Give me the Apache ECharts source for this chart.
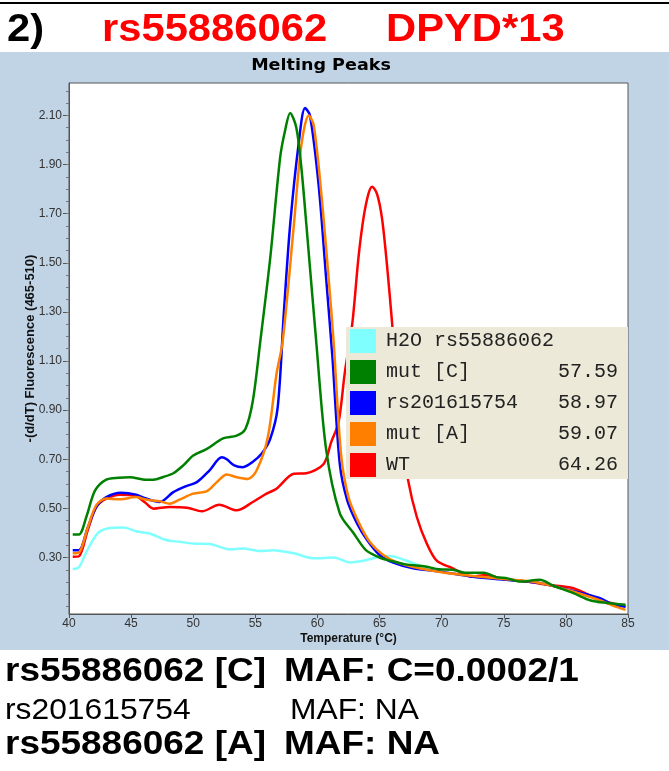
<!DOCTYPE html>
<html>
<head>
<meta charset="utf-8">
<title>Melting Peaks - rs55886062 DPYD*13</title>
<script src="https://cdn.jsdelivr.net/npm/echarts@6.0.0/dist/echarts.min.js"></script>
<style>
  html, body { margin: 0; padding: 0; background: #fff; }
  #chart { width: 669px; height: 771px; }
</style>
</head>
<body>
<div id="chart"></div>
<script>
// melting peak curves, temperature (°C) vs -(d/dT) fluorescence
const h2oTemp = [40.3, 40.8, 41.4, 42.3, 43.1, 44.4, 45.4, 46.5, 47.8, 48.9, 50.0, 51.3, 53.0, 54.0, 55.4, 56.4, 58.1, 59.7, 61.3, 62.6, 63.7, 64.5, 65.8, 67.2, 68.3, 69.3];
const h2oVal = [0.253, 0.26, 0.323, 0.398, 0.418, 0.422, 0.407, 0.398, 0.371, 0.364, 0.357, 0.355, 0.333, 0.337, 0.326, 0.33, 0.317, 0.297, 0.30, 0.28, 0.287, 0.297, 0.306, 0.287, 0.266, 0.25];

const mutCTemp = [40.3, 40.8, 41.4, 42.1, 43.0, 44.0, 44.9, 46.2, 46.8, 47.6, 48.4, 49.2, 50.0, 51.1, 52.4, 53.5, 54.2, 54.8, 55.4, 56.2, 57.0, 57.4, 57.8, 58.3, 58.7, 59.1, 59.9, 60.7, 61.8, 62.9, 63.9, 65.0, 66.0, 67.1, 68.7, 69.8, 70.9, 72.0, 73.4, 74.4, 75.3, 76.3, 77.9, 79.0, 80.6, 82.0, 83.3, 84.8];
const mutCVal = [0.394, 0.394, 0.466, 0.573, 0.617, 0.625, 0.627, 0.617, 0.617, 0.628, 0.643, 0.675, 0.715, 0.742, 0.785, 0.796, 0.823, 0.938, 1.18, 1.52, 1.93, 2.04, 2.11, 2.05, 1.89, 1.66, 1.18, 0.74, 0.48, 0.40, 0.33, 0.30, 0.285, 0.272, 0.263, 0.252, 0.25, 0.238, 0.238, 0.22, 0.215, 0.202, 0.209, 0.185, 0.155, 0.125, 0.115, 0.108];

const rsTemp = [40.3, 40.8, 41.5, 42.2, 43.0, 44.2, 45.4, 46.2, 47.3, 48.4, 49.4, 50.3, 51.3, 52.3, 52.7, 53.3, 54.0, 54.8, 55.5, 56.2, 56.8, 57.3, 57.8, 58.5, 59.0, 59.4, 60.1, 60.7, 61.2, 61.8, 62.4, 63.2, 64.0, 65.0, 66.1, 67.7, 69.8, 72.5, 75.2, 77.9, 80.0, 82.7, 83.8, 84.8];
const rsVal = [0.33, 0.33, 0.42, 0.506, 0.546, 0.564, 0.556, 0.54, 0.526, 0.566, 0.59, 0.607, 0.654, 0.708, 0.70, 0.675, 0.668, 0.69, 0.722, 0.783, 0.911, 1.30, 1.653, 1.99, 2.13, 2.10, 1.815, 1.437, 1.12, 0.68, 0.533, 0.438, 0.371, 0.31, 0.279, 0.256, 0.243, 0.222, 0.209, 0.196, 0.171, 0.135, 0.108, 0.10];

const mutATemp = [40.3, 40.8, 41.5, 42.2, 43.0, 44.1, 45.4, 46.2, 47.3, 48.1, 48.9, 50.0, 51.1, 51.9, 52.7, 53.5, 54.4, 55.1, 56.0, 56.7, 57.2, 58.1, 58.7, 59.3, 59.7, 60.3, 60.9, 61.3, 61.9, 62.5, 63.3, 64.2, 65.3, 66.4, 68.0, 70.0, 72.5, 75.0, 77.5, 80.0, 82.5, 84.0, 84.8];
const mutAVal = [0.317, 0.32, 0.42, 0.513, 0.54, 0.537, 0.546, 0.536, 0.529, 0.519, 0.536, 0.56, 0.57, 0.607, 0.638, 0.627, 0.62, 0.654, 0.789, 1.046, 1.18, 1.653, 1.977, 2.10, 2.06, 1.788, 1.437, 1.18, 0.72, 0.545, 0.445, 0.364, 0.31, 0.28, 0.258, 0.24, 0.225, 0.212, 0.20, 0.17, 0.13, 0.10, 0.087];

const wtTemp = [40.3, 40.8, 41.5, 42.2, 43.0, 44.1, 45.4, 46.1, 46.8, 48.1, 49.5, 50.7, 52.1, 53.5, 54.8, 55.9, 56.7, 58.1, 59.1, 60.5, 61.1, 61.7, 62.2, 62.8, 63.3, 63.7, 64.1, 64.4, 64.8, 65.2, 65.6, 66.0, 66.4, 66.8, 67.3, 68.0, 68.8, 69.6, 70.9, 72.5, 73.6, 74.7, 76.9, 78.5, 80.6, 82.7, 84.8];
const wtVal = [0.303, 0.305, 0.41, 0.506, 0.54, 0.556, 0.55, 0.525, 0.499, 0.506, 0.503, 0.488, 0.515, 0.492, 0.526, 0.56, 0.58, 0.641, 0.643, 0.681, 0.769, 0.85, 1.052, 1.25, 1.52, 1.68, 1.78, 1.81, 1.78, 1.68, 1.49, 1.26, 1.02, 0.80, 0.614, 0.465, 0.357, 0.287, 0.256, 0.222, 0.229, 0.216, 0.202, 0.189, 0.175, 0.128, 0.101];

// legend: sample names and Tm
const sampleNames = ['H2O rs55886062', 'mut [C]', 'rs201615754', 'mut [A]', 'WT'];
const tmValues = ['', '57.59', '58.97', '59.07', '64.26'];
const sampleColors = ['#80FFFF', '#008000', '#0000FF', '#FF8000', '#FF0000'];

const yTickLabels = [0.30, 0.50, 0.70, 0.90, 1.10, 1.30, 1.50, 1.70, 1.90, 2.10];

const noteLines = [
  ['rs55886062 [C]', 'MAF: C=0.0002/1', true],
  ['rs201615754', 'MAF: NA', false],
  ['rs55886062 [A]', 'MAF: NA', true]
];

function zip(xs, ys) {
  return xs.map((x, i) => [x, ys[i]]);
}

const curves = [
  { name: sampleNames[0], data: zip(h2oTemp, h2oVal), color: sampleColors[0] },
  { name: sampleNames[4], data: zip(wtTemp, wtVal), color: sampleColors[4] },
  { name: sampleNames[2], data: zip(rsTemp, rsVal), color: sampleColors[2] },
  { name: sampleNames[3], data: zip(mutATemp, mutAVal), color: sampleColors[3] },
  { name: sampleNames[1], data: zip(mutCTemp, mutCVal), color: sampleColors[1] }
];

// minor ticks every 0.05 on the y axis
const yMinorTicks = [];
for (let v = 0.10; v < 2.23; v += 0.05) yMinorTicks.push(+v.toFixed(2));

const yMin = 0.07, yMax = 2.232;

let chart = echarts.init(document.getElementById('chart'));

function txt(x, y, text, font, fill, sx, align) {
  return {
    type: 'text', x: x, y: y, scaleX: sx || 1,
    style: { text: text, font: font, fill: fill, align: align || 'left', verticalAlign: 'middle' }
  };
}

const notes = [];
const noteY = [671.5, 711, 745];
noteLines.forEach((l, i) => {
  const font = l[2] ? 'bold 33px "Liberation Sans", Arial' : '30px "Liberation Sans", Arial';
  const sx = l[2] ? 1.12 : 1.06;
  notes.push(txt(5, noteY[i], l[0], font, '#000', sx));
  notes.push(txt(l[2] ? 284 : 290, noteY[i], l[1], font, '#000', sx));
});

const titleFont = 'bold 39px "Liberation Sans", Arial';

const option = {
  animation: false,
  backgroundColor: '#fff',
  textStyle: { fontFamily: '"Liberation Sans", Arial' },
  graphic: [
    { type: 'rect', z: -10, shape: { x: 0, y: 52, width: 669, height: 598 }, style: { fill: '#C1D4E6' } },
    { type: 'rect', shape: { x: 0, y: 2, width: 669, height: 2 }, style: { fill: '#000' } },
    txt(7, 30, '2)', titleFont, '#000', 1.07),
    txt(102, 30, 'rs55886062', titleFont, '#FF0000', 1.07),
    txt(386, 30, 'DPYD*13', titleFont, '#FF0000', 1.07),
    txt(321, 66, 'Melting Peaks', 'bold 15px "DejaVu Sans"', '#000', 1.17, 'center')
  ].concat(notes),
  grid: {
    left: 69, right: 41, top: 83, bottom: 157,
    show: true,
    backgroundColor: '#fff',
    borderColor: '#555',
    borderWidth: 1
  },
  legend: {
    orient: 'vertical',
    left: 346,
    top: 327,
    backgroundColor: '#ECE9D8',
    padding: [2, 10, 2, 4],
    itemWidth: 26,
    itemHeight: 24,
    itemGap: 7,
    icon: 'rect',
    selectedMode: false,
    data: sampleNames,
    formatter: function (name) {
      return '{n|' + name + '}{v|' + tmValues[sampleNames.indexOf(name)] + '}';
    },
    textStyle: {
      fontFamily: '"Liberation Mono", monospace',
      fontSize: 20,
      color: '#222',
      rich: {
        n: { width: 150, padding: [0, 0, 0, 5], fontFamily: '"Liberation Mono", monospace', fontSize: 20, color: '#222' },
        v: { width: 82, align: 'right', fontFamily: '"Liberation Mono", monospace', fontSize: 20, color: '#222' }
      }
    }
  },
  xAxis: {
    type: 'value',
    min: 40,
    max: 85,
    interval: 5,
    name: 'Temperature (°C)',
    nameLocation: 'middle',
    nameGap: 19,
    nameMoveOverlap: false,
    nameTextStyle: { fontSize: 12, fontWeight: 'bold', color: '#111' },
    axisLine: { lineStyle: { color: '#555' } },
    axisTick: { length: 4, lineStyle: { color: '#555' } },
    axisLabel: { fontSize: 12, color: '#333', margin: 4 },
    splitLine: { show: false }
  },
  yAxis: [
    {
      type: 'value',
      min: yMin,
      max: yMax,
      name: '-(d/dT) Fluorescence (465-510)',
      nameLocation: 'middle',
      nameGap: 32,
      nameMoveOverlap: false,
      nameTextStyle: { fontSize: 13, fontWeight: 'bold', color: '#111' },
      axisLine: { show: true, lineStyle: { color: '#555' } },
      axisTick: { show: true, length: 6, customValues: yTickLabels, lineStyle: { color: '#555' } },
      axisLabel: {
        customValues: yTickLabels,
        formatter: function (v) { return v.toFixed(2); },
        fontSize: 12,
        color: '#333',
        margin: 7
      },
      splitLine: { show: false }
    },
    {
      type: 'value',
      min: yMin,
      max: yMax,
      position: 'left',
      axisLine: { show: false },
      axisTick: { show: true, length: 3, customValues: yMinorTicks, lineStyle: { color: '#777' } },
      axisLabel: { show: false },
      splitLine: { show: false }
    }
  ],
  series: curves.map(c => ({
    name: c.name,
    type: 'line',
    data: c.data,
    smooth: 0.3,
    showSymbol: false,
    symbol: 'none',
    color: c.color,
    lineStyle: { width: 2.5, color: c.color },
    itemStyle: { color: c.color }
  }))
};

chart.setOption(option);
window.addEventListener('resize', () => {
  chart.resize();
});
</script>
</body>
</html>
